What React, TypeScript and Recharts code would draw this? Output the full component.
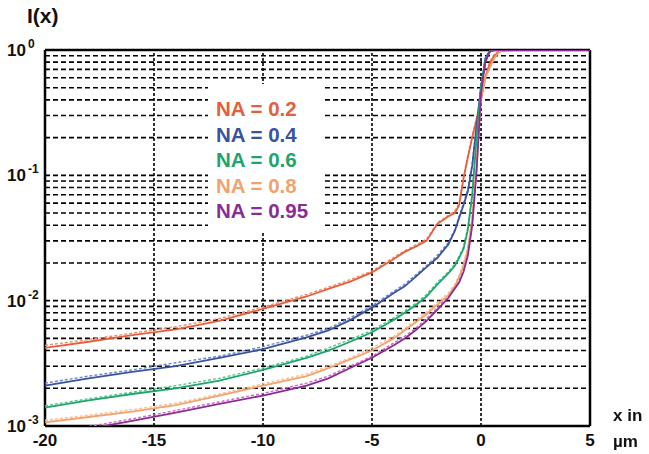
import React from "react";
import { CartesianGrid, Line, LineChart, ReferenceLine, XAxis, YAxis } from "recharts";

// positions along the edge, in µm
const xPos = [
  -20, -18, -16, -14, -12, -10, -8, -7, -6, -5, -4, -3.5, -3, -2.5, -2, -1.5, -1.2, -1, -0.8,
  -0.6, -0.4, -0.2, 0, 0.2, 0.4, 0.6, 0.8, 1, 1.5, 2, 3, 4, 5,
];

// intensity, solid = first model, dashed = second model
const na02 = [
  0.0042, 0.0047, 0.0053, 0.0059, 0.0069, 0.0086, 0.0108, 0.0124, 0.0142, 0.0168, 0.0215, 0.0245,
  0.027, 0.03, 0.041, 0.047, 0.05, 0.058, 0.095, 0.14, 0.2, 0.28, 0.4, 0.6, 0.78, 0.9, 0.96, 0.99,
  1, 1, 1, 1, 1,
];
const na02b = [
  0.0044, 0.0049, 0.0055, 0.0062, 0.0072, 0.0089, 0.0112, 0.0128, 0.0147, 0.0172, 0.0222, 0.025,
  0.0278, 0.031, 0.042, 0.048, 0.052, 0.06, 0.097, 0.145, 0.21, 0.29, 0.41, 0.62, 0.8, 0.92, 0.97,
  1, 1, 1, 1, 1, 1,
];
const na04 = [
  0.0021, 0.0024, 0.0027, 0.003, 0.0035, 0.0041, 0.0051, 0.0058, 0.007, 0.0088, 0.0115, 0.013,
  0.0155, 0.0185, 0.022, 0.028, 0.036, 0.046, 0.058, 0.075, 0.12, 0.25, 0.5, 0.85, 0.98, 1, 1, 1,
  1, 1, 1, 1, 1,
];
const na04b = [
  0.0022, 0.0025, 0.0028, 0.0032, 0.0036, 0.0043, 0.0053, 0.006, 0.0073, 0.0091, 0.0119, 0.0135,
  0.016, 0.019, 0.023, 0.029, 0.037, 0.047, 0.06, 0.078, 0.125, 0.26, 0.52, 0.87, 0.99, 1, 1, 1,
  1, 1, 1, 1, 1,
];
const na06 = [
  0.0014, 0.0016, 0.0018, 0.002, 0.0023, 0.0028, 0.0035, 0.004, 0.0047, 0.0056, 0.007, 0.008,
  0.0092, 0.0108, 0.0135, 0.0165, 0.019, 0.022, 0.026, 0.037, 0.07, 0.2, 0.5, 0.82, 0.97, 1, 1, 1,
  1, 1, 1, 1, 1,
];
const na06b = [
  0.00145, 0.00165, 0.00186, 0.0021, 0.0024, 0.0029, 0.0036, 0.0042, 0.0049, 0.0058, 0.0073,
  0.0083, 0.0095, 0.0112, 0.014, 0.017, 0.0196, 0.0228, 0.027, 0.039, 0.073, 0.21, 0.52, 0.84,
  0.98, 1, 1, 1, 1, 1, 1, 1, 1,
];
const na08 = [
  0.00107, 0.00118, 0.0013, 0.00147, 0.00175, 0.0021, 0.0025, 0.0029, 0.0034, 0.004, 0.005,
  0.0058, 0.0067, 0.0078, 0.0093, 0.011, 0.013, 0.0155, 0.019, 0.026, 0.045, 0.12, 0.42, 0.6,
  0.72, 0.85, 0.95, 1, 1, 1, 1, 1, 1,
];
const na08b = [
  0.00111, 0.00122, 0.00135, 0.00152, 0.0018, 0.00217, 0.0026, 0.003, 0.0035, 0.0042, 0.0052,
  0.006, 0.007, 0.0081, 0.0097, 0.0115, 0.0135, 0.016, 0.02, 0.027, 0.047, 0.13, 0.44, 0.62, 0.74,
  0.87, 0.96, 1, 1, 1, 1, 1, 1,
];
const na095 = [
  0.0008, 0.00095, 0.0011, 0.00128, 0.0015, 0.00175, 0.0021, 0.0024, 0.0029, 0.0035, 0.0044,
  0.005, 0.0058, 0.0069, 0.0085, 0.0105, 0.0125, 0.014, 0.017, 0.023, 0.04, 0.11, 0.45, 0.8, 0.97,
  1, 1, 1, 1, 1, 1, 1, 1,
];
const na095b = [
  0.00083, 0.00099, 0.00114, 0.00133, 0.00156, 0.00182, 0.0022, 0.0025, 0.003, 0.0036, 0.0046,
  0.0052, 0.006, 0.0072, 0.0088, 0.0109, 0.013, 0.0146, 0.0178, 0.024, 0.042, 0.115, 0.46, 0.82,
  0.98, 1, 1, 1, 1, 1, 1, 1, 1,
];

const xTicks = [-20, -15, -10, -5, 0, 5];
const gridX = [-15, -10, -5, 0];
const yTicks = [
  0.001, 0.002, 0.003, 0.004, 0.005, 0.006, 0.007, 0.008, 0.009, 0.01, 0.02, 0.03, 0.04, 0.05,
  0.06, 0.07, 0.08, 0.09, 0.1, 0.2, 0.3, 0.4, 0.5, 0.6, 0.7, 0.8, 0.9, 1,
];
const decades: Record<string, string> = { "1": "0", "0.1": "-1", "0.01": "-2", "0.001": "-3" };

const series = [
  { label: "NA = 0.2", solid: "na02", dashed: "na02b", color: "#e4603c", light: "#f08a6a" },
  { label: "NA = 0.4", solid: "na04", dashed: "na04b", color: "#3a52a2", light: "#6a82c8" },
  { label: "NA = 0.6", solid: "na06", dashed: "na06b", color: "#1ea56a", light: "#55c690" },
  { label: "NA = 0.8", solid: "na08", dashed: "na08b", color: "#f2a26e", light: "#f7bf94" },
  { label: "NA = 0.95", solid: "na095", dashed: "na095b", color: "#8a2c94", light: "#d066c4" },
];

const data = xPos.map((x, i) => ({
  x,
  na02: na02[i],
  na02b: na02b[i],
  na04: na04[i],
  na04b: na04b[i],
  na06: na06[i],
  na06b: na06b[i],
  na08: na08[i],
  na08b: na08b[i],
  na095: na095[i],
  na095b: na095b[i],
}));

const font = "'Liberation Sans', Arial, Helvetica, sans-serif";

const YTick = (props: any) => {
  const exp = decades[String(props.payload.value)];
  if (exp === undefined) return <g />;
  return (
    <text x={7} y={props.y + 6} fontFamily={font} fontWeight="bold" fontSize={17} fill="#111">
      10
      <tspan dx={2} dy={-8} fontSize={12}>
        {exp}
      </tspan>
    </text>
  );
};

const XTick = (props: any) => (
  <text
    x={props.x}
    y={446}
    textAnchor="middle"
    fontFamily={font}
    fontWeight="bold"
    fontSize={17}
    fill="#111"
  >
    {props.payload.value}
  </text>
);

export default function App() {
  return (
    <div style={{ position: "fixed", left: 0, top: 0, width: 649, height: 454, background: "#fff" }}>
      <LineChart width={649} height={454} data={data} margin={{ top: 50, right: 59, left: 0, bottom: 0 }}>
        <CartesianGrid vertical={false} stroke="#000" strokeWidth={1.6} strokeDasharray="5 3" />
        {gridX.map((v) => (
          <ReferenceLine key={v} x={v} stroke="#000" strokeWidth={1.6} strokeDasharray="3 2" />
        ))}
        {/* plot frame */}
        <ReferenceLine x={-20} stroke="#000" strokeWidth={2.5} ifOverflow="visible" />
        <ReferenceLine x={5} stroke="#000" strokeWidth={2.5} ifOverflow="visible" />
        <ReferenceLine y={1} stroke="#000" strokeWidth={2.5} ifOverflow="visible" />
        <ReferenceLine y={0.001} stroke="#000" strokeWidth={2.5} ifOverflow="visible" />
        <XAxis
          dataKey="x"
          type="number"
          domain={[-20, 5]}
          ticks={xTicks}
          height={28}
          axisLine={false}
          tickLine={false}
          tick={XTick}
          interval={0}
        />
        <YAxis
          scale="log"
          type="number"
          domain={[0.001, 1]}
          ticks={yTicks}
          allowDataOverflow
          width={45}
          axisLine={false}
          tickLine={false}
          tick={YTick}
          interval={0}
        />
        {series.map((s) => (
          <Line
            key={s.dashed}
            dataKey={s.dashed}
            stroke={s.light}
            strokeWidth={1.4}
            strokeDasharray="3 2"
            dot={false}
            isAnimationActive={false}
          />
        ))}
        {series.map((s) => (
          <Line
            key={s.solid}
            dataKey={s.solid}
            stroke={s.color}
            strokeWidth={1.8}
            dot={false}
            isAnimationActive={false}
          />
        ))}
      </LineChart>

      {/* legend */}
      <div
        style={{
          position: "absolute",
          left: 208,
          top: 84,
          width: 115,
          height: 148,
          background: "#fff",
          fontFamily: font,
          fontWeight: "bold",
          fontSize: 20.5,
        }}
      >
        {series.map((s, i) => (
          <div
            key={s.label}
            style={{
              position: "absolute",
              left: 8,
              top: 14 + i * 25.5,
              color: s.color,
              whiteSpace: "nowrap",
              lineHeight: "22px",
            }}
          >
            {s.label}
          </div>
        ))}
      </div>

      <div style={{ position: "absolute", left: 27, top: 4, fontFamily: font, fontWeight: "bold", fontSize: 21, color: "#111" }}>
        I(x)
      </div>
      <div
        style={{
          position: "absolute",
          left: 613,
          top: 403,
          fontFamily: font,
          fontWeight: "bold",
          fontSize: 17,
          lineHeight: "26px",
          color: "#111",
        }}
      >
        x in
        <br />
        µm
      </div>
    </div>
  );
}
